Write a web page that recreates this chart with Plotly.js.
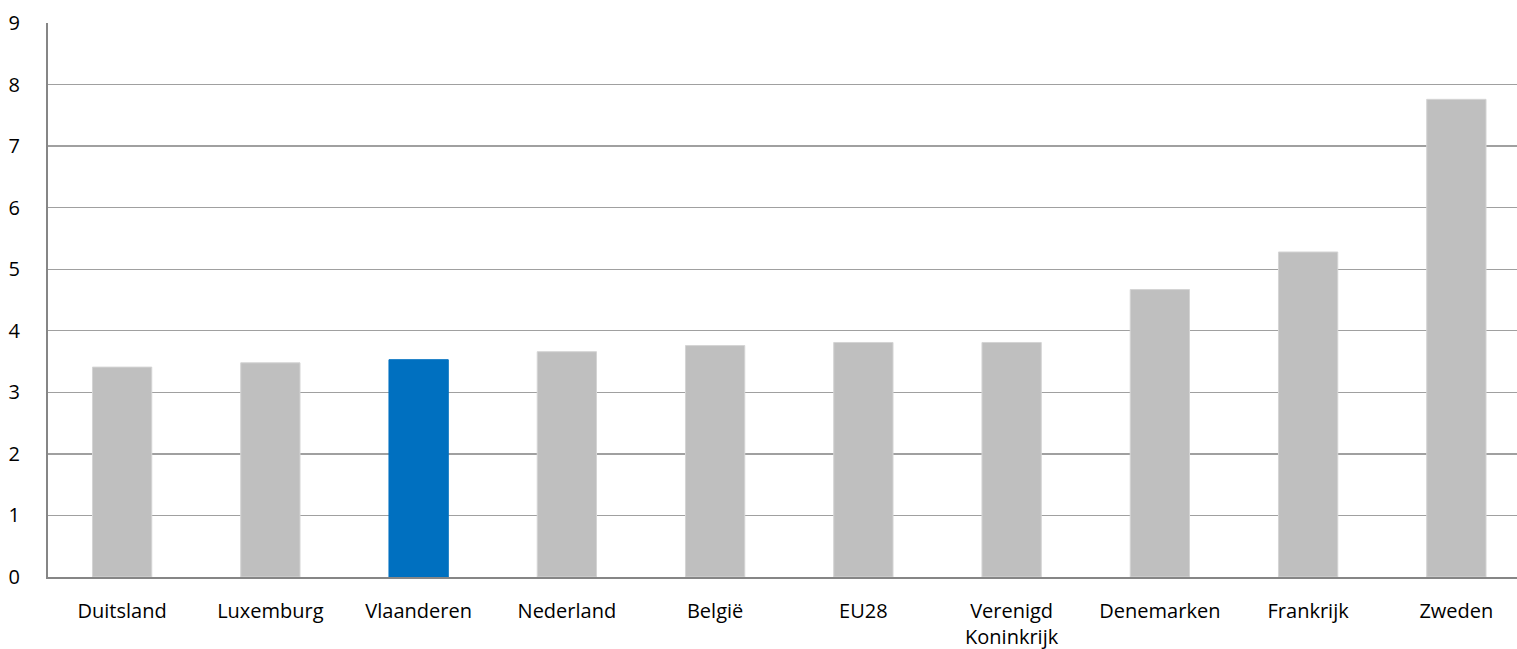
<!DOCTYPE html>
<html>
<head>
<meta charset="utf-8">
<script src="https://cdn.plot.ly/plotly-3.0.1.min.js"></script>
<style>html,body{margin:0;padding:0;background:#fff;}#chart{width:1517px;height:649px;}</style>
</head>
<body>
<div id="chart"></div>
<script>
const categories = ["Duitsland","Luxemburg","Vlaanderen","Nederland","België","EU28","Verenigd<br>Koninkrijk","Denemarken","Frankrijk","Zweden"];
const values = [3.41, 3.48, 3.53, 3.66, 3.76, 3.81, 3.81, 4.67, 5.28, 7.76];
const highlight = "Vlaanderen";
const yTicks = [0,1,2,3,4,5,6,7,8,9];

const colors = categories.map(c => c === highlight ? "#0070c0" : "#bfbfbf");
const lineColors = categories.map(c => c === highlight ? "#0070c0" : "#d4d4d4");

const trace = {
  type: "bar",
  x: categories,
  y: values,
  width: 0.4,
  marker: {color: colors, line: {color: lineColors, width: 1}},
  hoverinfo: "x+y"
};

const layout = {
  width: 1517,
  height: 649,
  margin: {l: 48, r: 0, t: 23, b: 71.5, pad: 0},
  paper_bgcolor: "#ffffff",
  plot_bgcolor: "#ffffff",
  showlegend: false,
  font: {family: "Open Sans, sans-serif", size: 20, color: "#000000"},
  xaxis: {
    type: "category",
    range: [-0.5, 9.409],
    showgrid: false,
    showline: true,
    linecolor: "#868686",
    linewidth: 2,
    ticks: "",
    ticklabelstandoff: 15,
    tickfont: {size: 20, color: "#000"},
    fixedrange: true
  },
  yaxis: {
    range: [0, 9],
    tickvals: yTicks,
    ticktext: yTicks.map(String),
    showgrid: true,
    gridcolor: "#a0a0a0",
    gridwidth: 1.3,
    zeroline: false,
    showline: true,
    linecolor: "#868686",
    linewidth: 2,
    ticks: "",
    ticklabelstandoff: 22,
    tickfont: {size: 20, color: "#000"},
    fixedrange: true
  },
  bargap: 0.6
};

Plotly.newPlot("chart", [trace], layout, {displayModeBar: false, staticPlot: true});
</script>
</body>
</html>
